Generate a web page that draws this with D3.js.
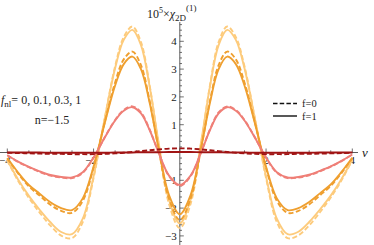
<!DOCTYPE html>
<html>
<head>
<meta charset="utf-8">
<script src="https://cdn.jsdelivr.net/npm/d3@7"></script>
<style>
	body { margin: 0; background: #fff; }
</style>
</head>
<body>
<svg id="chart" width="374" height="245" font-family="'Liberation Serif', 'Times New Roman', 'DejaVu Serif', serif"></svg>
<script>
var nu = [-4,-3.75,-3.5,-3.25,-3,-2.75,-2.5,-2.25,-2,-1.75,-1.5,-1.3,-1.1,-0.9,-0.7,-0.5,-0.25,0,0.25,0.5,0.7,0.9,1.1,1.3,1.5,1.75,2,2.25,2.5,2.75,3,3.25,3.5,3.75,4];

// f_nl = 0 (light yellow)
var yellowDash = [-0.29,-1.02,-1.63,-2.16,-2.63,-2.99,-3.08,-2.5,-0.92,1.15,3.1,4.15,4.53,3.97,2.42,0.38,-1.85,-2.72,-1.85,0.38,2.42,3.97,4.53,4.15,3.1,1.15,-0.92,-2.5,-3.08,-2.98,-2.62,-2.15,-1.62,-1.0,-0.27];
var yellowSolid = [-0.27,-0.97,-1.56,-2.06,-2.51,-2.86,-2.94,-2.38,-0.86,1.15,3.03,4.05,4.41,3.86,2.38,0.44,-1.70,-2.55,-1.70,0.44,2.38,3.86,4.41,4.05,3.03,1.15,-0.86,-2.38,-2.94,-2.85,-2.5,-2.05,-1.55,-0.95,-0.25];
// f_nl = 0.1 (orange)
var orangeDash = [-0.21,-0.75,-1.22,-1.55,-1.88,-2.1,-2.17,-1.74,-0.55,1.03,2.52,3.35,3.63,3.14,1.86,0.2,-1.66,-2.43,-1.66,0.2,1.86,3.14,3.63,3.35,2.52,1.03,-0.55,-1.74,-2.17,-2.1,-1.87,-1.54,-1.2,-0.74,-0.2];
var orangeSolid = [-0.2,-0.72,-1.17,-1.48,-1.79,-2.0,-2.07,-1.65,-0.51,1.0,2.41,3.18,3.45,3.0,1.80,0.21,-1.53,-2.22,-1.53,0.21,1.80,3.0,3.45,3.18,2.41,1.0,-0.51,-1.65,-2.07,-2.0,-1.78,-1.47,-1.15,-0.7,-0.19];
// f_nl = 0.3 (salmon)
var salmonDash = [-0.1,-0.34,-0.53,-0.7,-0.83,-0.9,-0.92,-0.73,-0.19,0.52,1.17,1.53,1.66,1.44,0.83,0.03,-0.85,-1.2,-0.85,0.03,0.83,1.44,1.66,1.53,1.17,0.52,-0.19,-0.73,-0.92,-0.9,-0.82,-0.68,-0.51,-0.31,-0.07];
var salmonSolid = [-0.1,-0.33,-0.52,-0.68,-0.81,-0.88,-0.9,-0.71,-0.18,0.51,1.15,1.50,1.63,1.41,0.81,0.03,-0.83,-1.17,-0.83,0.03,0.81,1.41,1.63,1.50,1.15,0.51,-0.18,-0.71,-0.9,-0.88,-0.8,-0.66,-0.5,-0.3,-0.07];
// f_nl = 1 (dark red)
var darkDash = [-0.01,-0.02,-0.03,-0.04,-0.05,-0.05,-0.06,-0.06,-0.06,-0.05,-0.03,-0.01,0.02,0.05,0.08,0.11,0.14,0.15,0.14,0.11,0.08,0.05,0.02,-0.01,-0.03,-0.05,-0.06,-0.06,-0.06,-0.05,-0.05,-0.04,-0.03,-0.02,-0.01];
var darkSolid = [0,0,0,0,-0.01,-0.01,-0.01,-0.01,-0.01,-0.01,0,0,0,0.01,0.01,0.01,0.02,0.02,0.02,0.01,0.01,0.01,0,0,0,-0.01,-0.01,-0.01,-0.01,-0.01,-0.01,0,0,0,0];

var xTickLabels = [-4, -2, 2, 4];
var yTickLabels = [-3, -2, -1, 1, 2, 3, 4];

var series = [
	{ values: yellowSolid, color: "#fdcb7c", dashed: false },
	{ values: yellowDash, color: "#fdcb7c", dashed: true },
	{ values: orangeSolid, color: "#ef9f2f", dashed: false },
	{ values: orangeDash, color: "#ef9f2f", dashed: true },
	{ values: salmonSolid, color: "#ef7f77", dashed: false },
	{ values: salmonDash, color: "#ef7f77", dashed: true },
	{ values: darkSolid, color: "#a01414", dashed: false },
	{ values: darkDash, color: "#a01414", dashed: true }
];

var svg = d3.select("#chart");

var x = d3.scaleLinear().domain([-4, 4]).range([7.3, 352.3]);
var y = d3.scaleLinear().domain([-3, 4]).range([235.9, 41.3]);

var axisColor = "#333";
var textColor = "#222";

// x axis
var gx = svg.append("g").attr("class", "x-axis");
gx.append("line")
	.attr("x1", 0).attr("x2", 358)
	.attr("y1", y(0)).attr("y2", y(0))
	.attr("stroke", axisColor).attr("stroke-width", 0.8);

gx.selectAll("line.minor")
	.data(d3.range(-4, 4.01, 0.5))
	.enter().append("line")
	.attr("class", "minor")
	.attr("x1", d => x(d)).attr("x2", d => x(d))
	.attr("y1", y(0)).attr("y2", d => y(0) - (d % 2 === 0 ? 4 : 2.2))
	.attr("stroke", axisColor).attr("stroke-width", 0.7);

gx.selectAll("text")
	.data(xTickLabels)
	.enter().append("text")
	.attr("x", d => x(d) + (d < 0 ? -2.5 : 0))
	.attr("y", y(0) + 11)
	.attr("text-anchor", "middle")
	.attr("font-size", 11)
	.attr("fill", textColor)
	.text(d => d < 0 ? "\u2212" + Math.abs(d) : d);

svg.append("text")
	.attr("x", 362).attr("y", y(0) + 4)
	.attr("font-size", 13)
	.attr("font-style", "italic")
	.attr("fill", textColor)
	.text("\u03bd");

// y axis
var gy = svg.append("g").attr("class", "y-axis");
gy.append("line")
	.attr("x1", x(0)).attr("x2", x(0))
	.attr("y1", 22).attr("y2", 245)
	.attr("stroke", axisColor).attr("stroke-width", 0.8);

gy.selectAll("line.minor")
	.data(d3.range(-16, 24).map(d => d / 5))
	.enter().append("line")
	.attr("class", "minor")
	.attr("x1", x(0)).attr("x2", d => x(0) + (Math.abs(d - Math.round(d)) < 1e-6 ? 4 : 2.2))
	.attr("y1", d => y(d)).attr("y2", d => y(d))
	.attr("stroke", axisColor).attr("stroke-width", 0.7);

gy.selectAll("text")
	.data(yTickLabels)
	.enter().append("text")
	.attr("x", x(0) - 3)
	.attr("y", d => y(d) + 4)
	.attr("text-anchor", "end")
	.attr("font-size", 11)
	.attr("fill", textColor)
	.text(d => d < 0 ? "\u2212" + Math.abs(d) : d);

// title
var title = svg.append("text")
	.attr("x", 147).attr("y", 18)
	.attr("font-size", 12)
	.attr("fill", textColor);
title.append("tspan").text("10");
title.append("tspan").attr("font-size", 8).attr("dy", -5).text("5");
title.append("tspan").attr("dy", 5).text("\u00d7");
title.append("tspan").attr("font-style", "italic").text("\u03c7");
title.append("tspan").attr("font-size", 9).attr("dy", 3).text("2D");
title.append("tspan").attr("font-size", 9).attr("dy", -10).text("(1)");

// curves
var line = d3.line()
	.x((d, i) => x(nu[i]))
	.y(d => y(d))
	.curve(d3.curveCatmullRom);

svg.append("g").attr("class", "curves")
	.selectAll("path")
	.data(series)
	.enter().append("path")
	.attr("d", d => line(d.values))
	.attr("fill", "none")
	.attr("stroke", d => d.color)
	.attr("stroke-width", 1.9)
	.attr("stroke-dasharray", d => d.dashed ? "5,2.5" : null);

// left annotation
var ann = svg.append("text")
	.attr("x", 1).attr("y", 104)
	.attr("font-size", 12)
	.attr("fill", textColor);
ann.append("tspan").attr("font-style", "italic").text("f");
ann.append("tspan").attr("font-size", 9).attr("dy", 3).text("nl");
ann.append("tspan").attr("dy", -3).text("= 0, 0.1, 0.3, 1");

svg.append("text")
	.attr("x", 52).attr("y", 124)
	.attr("text-anchor", "middle")
	.attr("font-size", 12)
	.attr("fill", textColor)
	.text("n=\u22121.5");

// legend for line styles
var legend = svg.append("g").attr("class", "legend");
var legendItems = [
	{ label: "f=0", dashed: true, yPos: 103.5 },
	{ label: "f=1", dashed: false, yPos: 116 }
];
legend.selectAll("line")
	.data(legendItems)
	.enter().append("line")
	.attr("x1", 273).attr("x2", 297)
	.attr("y1", d => d.yPos).attr("y2", d => d.yPos)
	.attr("stroke", "#111")
	.attr("stroke-width", 1.4)
	.attr("stroke-dasharray", d => d.dashed ? "4.5,2.2" : null);
legend.selectAll("text")
	.data(legendItems)
	.enter().append("text")
	.attr("x", 302)
	.attr("y", d => d.yPos + 3.5)
	.attr("font-size", 10.5)
	.attr("fill", textColor)
	.text(d => d.label);
</script>
</body>
</html>
